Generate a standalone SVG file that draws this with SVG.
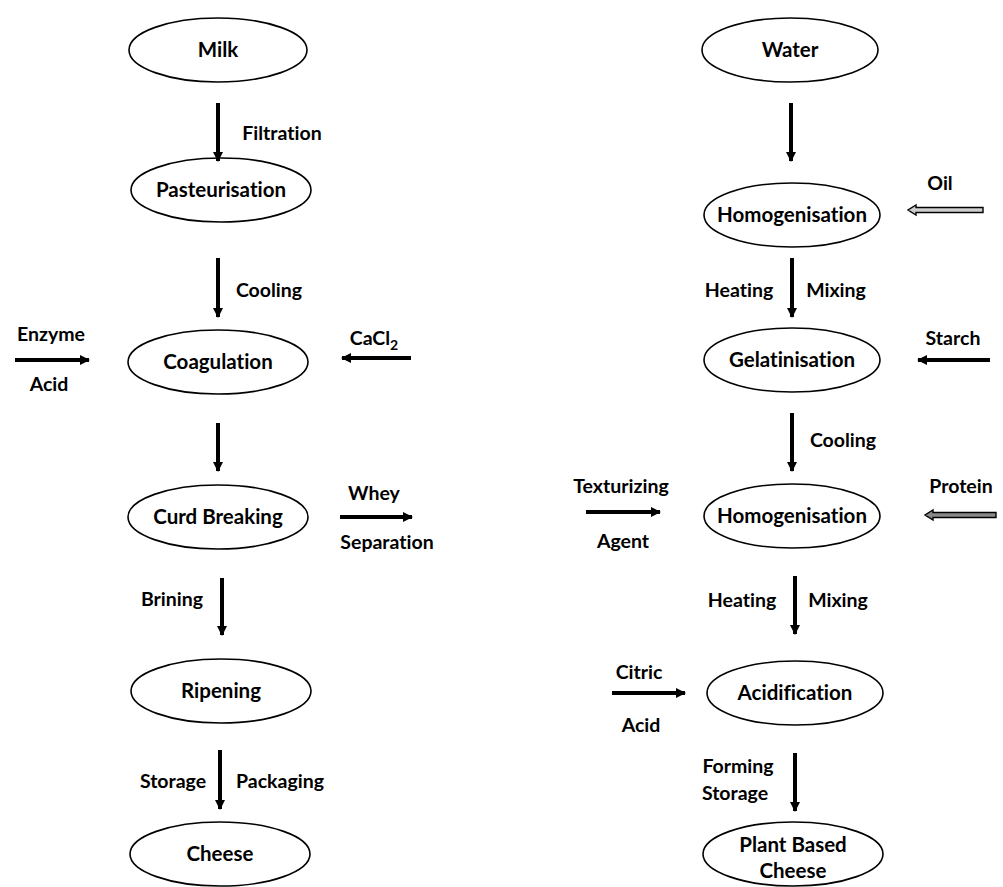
<svg xmlns="http://www.w3.org/2000/svg" width="1003" height="887" viewBox="0 0 1003 887">
<defs>
<style>
.n ellipse{fill:#fff;stroke:#000;stroke-width:1.6}
text{font-family:Lato,"Open Sans","Liberation Sans",sans-serif;font-weight:bold;font-size:19.5px;fill:#000;text-anchor:middle;font-variant-ligatures:none}
.n text{font-size:20.5px}
.a{stroke:#000;stroke-width:4;fill:none;marker-end:url(#h)}
.d{stroke:#000;stroke-width:1.4}
</style>
<marker id="h" viewBox="0 0 10 10" refX="9" refY="5" markerWidth="2.5" markerHeight="2.5" orient="auto" markerUnits="strokeWidth">
<path d="M0,0 L10,5 L0,10 Z" fill="#000"/>
</marker>
</defs>
<rect width="1003" height="887" fill="#fff"/>
<g id="milk" class="n"><ellipse cx="218" cy="50" rx="89" ry="32"/><text x="218" y="57">Milk</text></g>
<g id="pasteurisation" class="n"><ellipse cx="221" cy="190" rx="90" ry="32"/><text x="221" y="197">Pasteurisation</text></g>
<g id="coagulation" class="n"><ellipse cx="218" cy="362" rx="90" ry="32"/><text x="218" y="369">Coagulation</text></g>
<g id="curd" class="n"><ellipse cx="218" cy="517" rx="90" ry="32"/><text x="218" y="524">Curd Breaking</text></g>
<g id="ripening" class="n"><ellipse cx="221" cy="691" rx="90" ry="32"/><text x="221" y="698">Ripening</text></g>
<g id="cheese" class="n"><ellipse cx="220" cy="854" rx="90" ry="32"/><text x="220" y="861">Cheese</text></g>
<g id="water" class="n"><ellipse cx="790" cy="50" rx="88" ry="32"/><text x="790" y="57">Water</text></g>
<g id="homog1" class="n"><ellipse cx="792" cy="215" rx="88" ry="32"/><text x="792" y="222">Homogenisation</text></g>
<g id="gelatinisation" class="n"><ellipse cx="792" cy="360" rx="88" ry="32"/><text x="792" y="367">Gelatinisation</text></g>
<g id="homog2" class="n"><ellipse cx="792" cy="516" rx="88" ry="32"/><text x="792" y="523">Homogenisation</text></g>
<g id="acidification" class="n"><ellipse cx="795" cy="693" rx="88" ry="32"/><text x="795" y="700">Acidification</text></g>
<g id="plant" class="n"><ellipse cx="793" cy="854" rx="90" ry="32"/><text x="793" y="852">Plant Based</text><text x="793" y="878">Cheese</text></g>
<g id="connectors">
<line class="a" x1="218" y1="103" x2="218" y2="161"/>
<line class="a" x1="218" y1="258" x2="218" y2="317"/>
<line class="a" x1="15" y1="360" x2="89" y2="360"/>
<line class="a" x1="411" y1="358" x2="342" y2="358"/>
<line class="a" x1="218" y1="423" x2="218" y2="471"/>
<line class="a" x1="340" y1="517" x2="412" y2="517"/>
<line class="a" x1="222" y1="578" x2="222" y2="635"/>
<line class="a" x1="220" y1="750" x2="220" y2="809"/>
<line class="a" x1="791" y1="103" x2="791" y2="161"/>
<path class="d" fill="#cfcfcf" d="M983,207.5 L916,207.5 L916,205 L908,210 L916,215 L916,212.5 L983,212.5 Z"/>
<line class="a" x1="792" y1="258" x2="792" y2="317"/>
<line class="a" x1="990" y1="360" x2="918" y2="360"/>
<line class="a" x1="792" y1="413" x2="792" y2="471"/>
<line class="a" x1="586" y1="512" x2="660" y2="512"/>
<path class="d" fill="#8a8a8a" d="M996,512.5 L933,512.5 L933,510 L925,515 L933,520 L933,517.5 L996,517.5 Z"/>
<line class="a" x1="795" y1="576" x2="795" y2="634"/>
<line class="a" x1="612" y1="693" x2="685" y2="693"/>
<line class="a" x1="795" y1="753" x2="795" y2="811"/>
</g>
<g id="labels">
<text x="282" y="140">Filtration</text>
<text x="269" y="297">Cooling</text>
<text x="51" y="341">Enzyme</text>
<text x="49" y="391">Acid</text>
<text x="374" y="345">CaCl<tspan font-size="14" dy="5">2</tspan></text>
<text x="374" y="500">Whey</text>
<text x="387" y="549">Separation</text>
<text x="172" y="606">Brining</text>
<text x="173" y="788">Storage</text>
<text x="280" y="788">Packaging</text>
<text x="940" y="190">Oil</text>
<text x="739" y="297">Heating</text>
<text x="836" y="297">Mixing</text>
<text x="953" y="345">Starch</text>
<text x="843" y="447">Cooling</text>
<text x="621" y="493">Texturizing</text>
<text x="623" y="548">Agent</text>
<text x="961" y="493">Protein</text>
<text x="742" y="607">Heating</text>
<text x="838" y="607">Mixing</text>
<text x="639" y="679">Citric</text>
<text x="641" y="732">Acid</text>
<text x="738" y="773">Forming</text>
<text x="735" y="800">Storage</text>
</g>
</svg>
